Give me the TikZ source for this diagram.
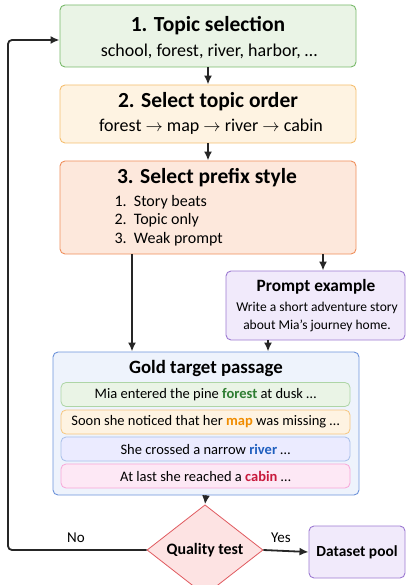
\documentclass[tikz,border=0pt]{standalone}
\usepackage{fontspec}
\setmainfont{Carlito}
\usetikzlibrary{arrows,arrows.meta,shapes.geometric}

\definecolor{topicfill}{HTML}{EAF4E6}\definecolor{topicdraw}{HTML}{78B96A}
\definecolor{orderfill}{HTML}{FEF3E2}\definecolor{orderdraw}{HTML}{F5BE6E}
\definecolor{prefixfill}{HTML}{FDE8DC}\definecolor{prefixdraw}{HTML}{EF8F5C}
\definecolor{promptfill}{HTML}{F1EAFB}\definecolor{promptdraw}{HTML}{9C79D2}
\definecolor{goldfill}{HTML}{EEF3FC}\definecolor{golddraw}{HTML}{6D93DA}
\definecolor{checkfill}{HTML}{FDE3E3}\definecolor{checkdraw}{HTML}{E05A5F}
\definecolor{greenword}{HTML}{2E7D32}\definecolor{orangeword}{HTML}{F08C00}
\definecolor{blueword}{HTML}{1F5FBF}\definecolor{redword}{HTML}{C8193C}

\tikzset{
  box/.style={draw,rounded corners=5pt,line width=.9pt,inner sep=0pt},
  line/.style={rounded corners=5pt,line width=.8pt,inner sep=0pt,minimum width=289pt,minimum height=24pt,font=\fontsize{14.5}{16}\selectfont},
  flow/.style={-{Latex[length=9pt,width=8pt]},line width=1.8pt,draw=black!85},
  title/.style={font=\bfseries\fontsize{21.5}{24}\selectfont},
  subtitle/.style={font=\fontsize{18}{20}\selectfont}
}

\begin{document}
\begin{tikzpicture}[x=1pt,y=-1pt]
  \useasboundingbox (0,0) rectangle (406,585);

  % steps
  \node[box,fill=topicfill,draw=topicdraw,minimum width=296pt,minimum height=62pt] (topic) at (208,36) {};
  \node[title] (topicttl) at (208,26) {1. Topic selection};
  \node[subtitle] (topicsub) at (209,51) {school, forest, river, harbor, \dots};

  \node[box,fill=orderfill,draw=orderdraw,minimum width=296pt,minimum height=58pt] (order) at (208,114) {};
  \node[title] (orderttl) at (208,102) {2. Select topic order};
  \node[subtitle] (ordersub) at (211,127) {forest $\rightarrow$ map $\rightarrow$ river $\rightarrow$ cabin};

  \node[box,fill=prefixfill,draw=prefixdraw,minimum width=296pt,minimum height=93pt] (prefix) at (208,207.5) {};
  \node[title] (prefixttl) at (207,178) {3. Select prefix style};
  \node[font=\fontsize{16}{18}\selectfont,anchor=west] (item1) at (111,202) {1.\ \ Story beats};
  \node[font=\fontsize{16}{18}\selectfont,anchor=west] (item2) at (111,220.5) {2.\ \ Topic only};
  \node[font=\fontsize{16}{18}\selectfont,anchor=west] (item3) at (111,239) {3.\ \ Weak prompt};

  \node[box,fill=promptfill,draw=promptdraw,minimum width=179pt,minimum height=69pt] (prompt) at (315.5,305.5) {};
  \node[font=\bfseries\fontsize{17.3}{20}\selectfont] (promptttl) at (316,287) {Prompt example};
  \node[font=\fontsize{13.5}{18}\selectfont,align=center] (prompttxt) at (317,317) {Write a short adventure story\\about Mia's journey home.};

  % target passage
  \node[box,fill=goldfill,draw=golddraw,minimum width=306pt,minimum height=143pt] (gold) at (206,423.5) {};
  \node[font=\bfseries\fontsize{18.8}{21}\selectfont] (goldttl) at (206,368) {Gold target passage};
  \node[line,fill=topicfill,draw=topicdraw!60] (beat1) at (205.5,394.5)
    {Mia entered the pine \textbf{\color{greenword}forest} at dusk \dots};
  \node[line,fill=orderfill,draw=orderdraw!90] (beat2) at (205.5,422)
    {Soon she noticed that her \textbf{\color{orangeword}map} was missing \dots};
  \node[line,fill=blue!8,draw=golddraw!60] (beat3) at (205.5,449)
    {She crossed a narrow \textbf{\color{blueword}river} \dots};
  \node[line,fill=magenta!9,draw=magenta!35] (beat4) at (205.5,476)
    {At last she reached a \textbf{\color{redword}cabin} \dots};

  % test
  \node[diamond,draw=checkdraw,fill=checkfill,line width=.8pt,inner sep=0pt,
    minimum width=116pt,minimum height=70pt,font=\bfseries\fontsize{15.9}{18}\selectfont] (check) at (205,550) {Quality test};
  \node[box,fill=promptfill,draw=promptdraw,minimum width=96pt,minimum height=52pt,
    font=\bfseries\fontsize{15.4}{18}\selectfont] (pool) at (357,552) {Dataset pool};

  \draw[flow] (topic.south) -- (order.north);
  \draw[flow] (order.south) -- (prefix.north);
  \draw[flow] ([xshift=-76pt]prefix.south) -- ([xshift=-76pt]prefix.south |- gold.north);
  \draw[flow] ([xshift=115pt]prefix.south) -- ([xshift=115pt]prefix.south |- prompt.north);
  \draw[flow] ([xshift=-47.5pt]prompt.south) -- ([xshift=-47.5pt]prompt.south |- gold.north);
  \draw[flow] (gold.south) -- (check.north);
  \draw[flow] (check.east) -- (pool.west);
  \coordinate (back) at (8,550);
  \draw[flow,rounded corners=4pt] (check.west) -- (back) |- ([yshift=-4pt]topic.west);
  \node[font=\fontsize{15}{17}\selectfont] (no) at (76,538) {No};
  \node[font=\fontsize{15}{17}\selectfont] (yes) at (281,538) {Yes};
\end{tikzpicture}
\end{document}
